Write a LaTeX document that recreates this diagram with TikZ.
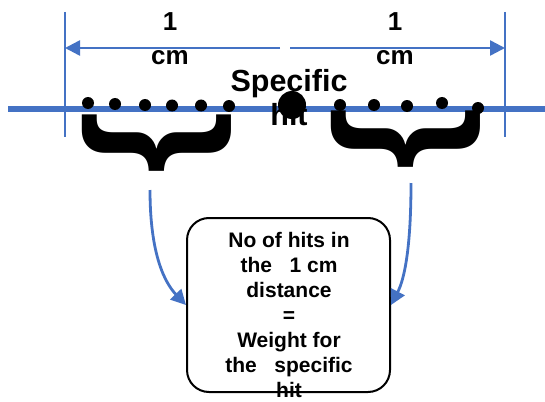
\documentclass[tikz,border=0pt]{standalone}
\usepackage{fontspec}
\setmainfont{Liberation Sans}
\usetikzlibrary{arrows.meta}
\usetikzlibrary{positioning}
\tikzset{hit/.style = {fill, circle, inner sep = 0pt, minimum size = 12pt}}
\tikzset{bighit/.style = {fill, circle, inner sep = 0pt, minimum size = 28pt}}
\tikzset{cmtip/.style = {-{Triangle[length=15pt, width=15pt]}}}
\tikzset{bracket/.style = {font=\fontsize{160}{160}\selectfont\bfseries, rotate=-90, inner sep = 0pt}}
\definecolor{lineblue}{HTML}{4472C4}

\begin{document}
\begin{tikzpicture}[x=1pt, y=-1pt]
      \useasboundingbox (0,0) rectangle (545,401);

      % limits of the 1 cm window
      \coordinate (ltop) at (65,12);
      \coordinate (lbot) at (65,137);
      \coordinate (rtop) at (505,12);
      \coordinate (rbot) at (505,137);
      \draw [lineblue, line width=1.5pt] (ltop) -- (lbot);
      \draw [lineblue, line width=1.5pt] (rtop) -- (rbot);

      \coordinate (axisl) at (8,109);
      \coordinate (axisr) at (545,109);
      \draw [lineblue, line width=6.5pt] (axisl) -- (axisr);

      \coordinate (lstart) at (280,48);
      \coordinate (rstart) at (290,48);
      \draw [lineblue, line width=2.5pt, cmtip] (lstart) -- (lstart -| ltop);
      \draw [lineblue, line width=2.5pt, cmtip] (rstart) -- (rstart -| rtop);
      \node [font=\fontsize{26}{34}\selectfont\bfseries, align=center] (lcm) at (170,39) {1\\cm};
      \node [font=\fontsize{26}{34}\selectfont\bfseries, align=center] (rcm) at (395,39) {1\\cm};

      \node [font=\fontsize{30.5}{34}\selectfont\bfseries, align=center] (spec) at (289,97.5) {Specific\\hit};
      \foreach \x/\y [count=\i] in {88/103, 115/104, 145/105, 172/105.5, 201/105.5, 229/106} {
        \node [hit] (l\i) at (\x,\y) {};
      }
      \foreach \x/\y [count=\i] in {340/105, 374/105, 407/106, 442/103, 478/108} {
        \node [hit] (r\i) at (\x,\y) {};
      }
      \node [bighit] (specdot) at (292,105) {};

      \node [bracket] (lbrace) at (157,143) {\}};
      \node [bracket] (rbrace) at (406,139) {\}};

      \node [draw, line width=2pt, rounded corners=22pt, minimum width=203pt, minimum height=174pt] (box) at (288.5,305) {};
      \node [font=\fontsize{21}{25}\selectfont\bfseries, align=center] (boxtext) at (289,315) {No of hits in\\the\ \ \ 1 cm\\distance\\=\\Weight for\\the\ \ \ specific\\hit};

      \coordinate (lfoot) at (150,190);
      \coordinate (rfoot) at (411,183);
      \draw [lineblue, line width=2.8pt, cmtip] (lfoot) .. controls (150,255) and (165,283) .. (box.west);
      \draw [lineblue, line width=2.8pt, cmtip] (rfoot) .. controls (411,250) and (404,280) .. (box.east);
    \end{tikzpicture}
\end{document}
